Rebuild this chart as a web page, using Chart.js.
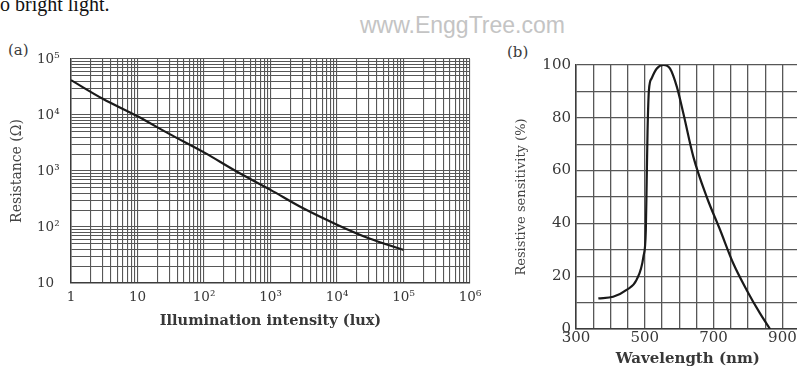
<!DOCTYPE html>
<html>
<head>
<meta charset="utf-8">
<script src="https://cdn.jsdelivr.net/npm/chart.js@4.4.1/dist/chart.umd.min.js"></script>
<style>
  html, body { margin: 0; padding: 0; background: #fff; }
  #wrap { position: relative; width: 797px; height: 369px; overflow: hidden; background: #fff; }
  canvas { position: absolute; top: 0; }
  #cA { left: 0; }
  #cB { left: 490px; }
  .txt { position: absolute; white-space: nowrap; line-height: 1; }
  #caption { left: 0; top: -7px; font: 20px "Liberation Serif", serif; color: #111; }
  #mark { left: 360px; top: 12px; font: 23px "Liberation Sans", Arial, sans-serif; color: #c4c4c4; }
  #labA { left: 8px; top: 41px; font: 15px "DejaVu Serif", serif; color: #3a3a3a; }
  #labB { left: 507px; top: 43px; font: 15px "DejaVu Serif", serif; color: #3a3a3a; }
</style>
</head>
<body>
<div id="wrap">
  <div class="txt" id="caption">o bright light.</div>
  <div class="txt" id="mark">www.EnggTree.com</div>
  <div class="txt" id="labA">(a)</div>
  <div class="txt" id="labB">(b)</div>
  <canvas id="cA" width="490" height="369"></canvas>
  <canvas id="cB" width="320" height="369"></canvas>
</div>
<script>
// (a) resistance of the photoresistor against illumination
const illumination = [1, 3, 10, 30, 100, 300, 1000, 3000, 10000, 30000, 100000];
const resistance   = [42000, 19500, 9500, 4600, 2150, 1000, 460, 220, 110, 63, 39];
const luxDecades   = [0, 1, 2, 3, 4, 5, 6];
const luxLabels    = ['1', '10', '10²', '10³', '10⁴', '10⁵', '10⁶'];
const ohmDecades   = [1, 2, 3, 4, 5];
const ohmLabels    = ['10', '10²', '10³', '10⁴', '10⁵'];

// (b) relative spectral sensitivity
const wavelength  = [365, 408, 447, 476, 496, 503, 505.5, 508, 512, 520, 535, 554, 573, 593, 612, 641, 680, 719, 757, 796, 835, 864];
const sensitivity = [11.6, 12.2, 14.8, 18.6, 27.4, 37.5, 56, 75, 90.5, 95, 98.7, 100, 98.7, 91.8, 81.7, 65.3, 50, 37.5, 24.9, 14.8, 5.9, 0];
const nmLabels    = [300, 500, 700, 900];
const pctLabels   = [0, 20, 40, 60, 80, 100];

const serif = '"DejaVu Serif", serif';
const tickColor = '#383838';
const gridColor = '#575757';
const frameColor = '#3c3c3c';

// every 1..9 multiple inside the decades of a log axis
function logTickValues(decades) {
  const out = [];
  for (let i = 0; i < decades.length - 1; i++) {
    const base = Math.pow(10, decades[i]);
    for (let m = 1; m <= 9; m++) out.push(m * base);
  }
  out.push(Math.pow(10, decades[decades.length - 1]));
  return out;
}
function decadeLabel(value, decades, labels) {
  const e = Math.log10(value);
  const r = Math.round(e);
  if (Math.abs(e - r) > 1e-9) return '';
  const i = decades.indexOf(r);
  return i >= 0 ? labels[i] : '';
}

new Chart(document.getElementById('cA'), {
  type: 'line',
  data: {
    datasets: [{
      data: illumination.map((x, i) => ({ x: x, y: resistance[i] })),
      borderColor: '#1a1a1a',
      borderWidth: 2.2,
      pointRadius: 0,
      tension: 0.35,
      fill: false
    }]
  },
  options: {
    responsive: false,
    devicePixelRatio: 1,
    animation: false,
    // the y labels sit left-aligned in a 34px column starting at x=37
    layout: { padding: { top: 59, right: 20, bottom: 37, left: 37 } },
    plugins: { legend: { display: false }, tooltip: { enabled: false } },
    scales: {
      x: {
        type: 'logarithmic',
        min: 1, max: 1e6,
        afterBuildTicks: s => { s.ticks = logTickValues(luxDecades).map(v => ({ value: v })); },
        afterFit: s => { s.height = 49; },
        grid: { color: gridColor, lineWidth: 1.1, drawTicks: false },
        border: { color: frameColor, width: 1.5 },
        ticks: {
          autoSkip: false, maxRotation: 0, padding: 6,
          color: tickColor, font: { family: serif, size: 13.5 },
          callback: v => decadeLabel(v, luxDecades, luxLabels)
        },
        title: {
          display: true, text: 'Illumination intensity (lux)',
          color: '#383838', font: { family: serif, size: 14.5, weight: 'bold' },
          padding: { top: 0, bottom: 2 }
        }
      },
      y: {
        type: 'logarithmic',
        min: 10, max: 1e5,
        afterBuildTicks: s => { s.ticks = logTickValues(ohmDecades).map(v => ({ value: v })); },
        afterFit: s => { s.width = 34; },
        grid: { color: gridColor, lineWidth: 1.1, drawTicks: false },
        border: { color: frameColor, width: 1.5 },
        ticks: {
          autoSkip: false, padding: 6, crossAlign: 'far',
          color: tickColor, font: { family: serif, size: 13.5 },
          callback: v => decadeLabel(v, ohmDecades, ohmLabels)
        },
        title: {
          // pulled out into the page margin, left of the label column
          display: true, text: 'Resistance (Ω)',
          color: '#444', font: { family: serif, size: 14 },
          padding: { top: -28, bottom: 0 }
        }
      }
    }
  }
});

new Chart(document.getElementById('cB'), {
  type: 'line',
  data: {
    datasets: [{
      data: wavelength.map((x, i) => ({ x: x, y: sensitivity[i] })),
      borderColor: '#1a1a1a',
      borderWidth: 2.2,
      pointRadius: 0,
      cubicInterpolationMode: 'monotone',
      fill: false
    }]
  },
  options: {
    responsive: false,
    devicePixelRatio: 1,
    animation: false,
    layout: { padding: { top: 65, right: 10.4, bottom: 0, left: 0 } },
    plugins: { legend: { display: false }, tooltip: { enabled: false } },
    scales: {
      x: {
        type: 'linear',
        min: 300, max: 950,
        afterFit: s => { s.height = 40; },
        grid: { color: gridColor, lineWidth: 1.3, drawTicks: false },
        border: { color: frameColor, width: 1.5 },
        ticks: {
          stepSize: 50, autoSkip: false, maxRotation: 0, padding: 0,
          color: tickColor, font: { family: serif, size: 15 },
          callback: v => nmLabels.includes(v) ? String(v) : ''
        },
        title: {
          display: true, text: 'Wavelength (nm)',
          color: '#383838', font: { family: serif, size: 15, weight: 'bold' },
          padding: { top: 0, bottom: 1 }
        }
      },
      y: {
        min: 0, max: 100,
        afterFit: s => { s.width = 86; },
        grid: { color: gridColor, lineWidth: 1.3, drawTicks: false },
        border: { color: frameColor, width: 1.5 },
        ticks: {
          stepSize: 10, autoSkip: false, padding: 5,
          color: tickColor, font: { family: serif, size: 15 },
          callback: v => pctLabels.includes(v) ? String(v) : ''
        },
        title: {
          display: true, text: 'Resistive sensitivity (%)',
          color: '#444', font: { family: serif, size: 13 },
          padding: { top: 24, bottom: 0 }
        }
      }
    }
  }
});
</script>
</body>
</html>
